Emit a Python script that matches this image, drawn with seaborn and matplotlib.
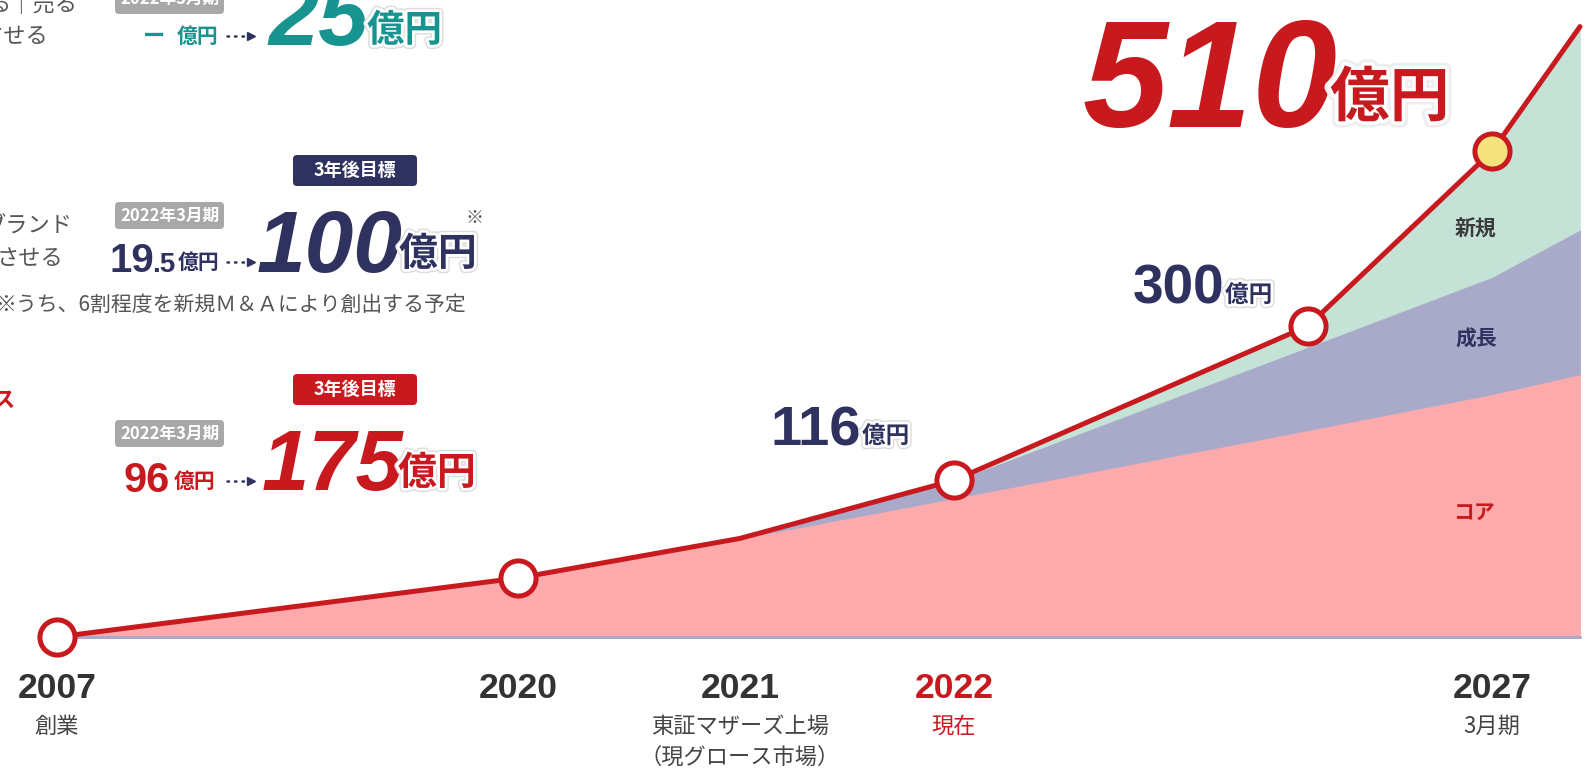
import numpy as np
import matplotlib
matplotlib.use("Agg")
import matplotlib.pyplot as plt
import matplotlib.transforms as mtransforms
import matplotlib.patheffects as pe
from matplotlib.patches import FancyBboxPatch
from matplotlib.lines import Line2D
from matplotlib import font_manager
import seaborn as sns

# ---------------- data (億円) ----------------
years = [2007, 2020, 2021, 2022, 2025, 2027, 2028]
total_sales = [0, 27, 56, 116, 300, 510, 660]
core_sales = [0, 27, 56, 96, 175, 218, 242]
growth_sales = [0, 0, 0, 19.5, 100, 141, 174]
# 新規 fills the gap between (core + growth) and total

open_marker_years = [2007, 2020, 2022, 2025]
goal_year = 2027
value_label_years = [2022, 2025, 2027]

tick_years = [2007, 2020, 2021, 2022, 2027]
tick_labels = ["2007", "2020", "2021", "2022", "2027"]
tick_captions = [["創業"], [], ["東証マザーズ上場", "（現グロース市場）"], ["現在"], ["3月期"]]
current_year = 2022
target_year = 2025

segment_names = ["コア", "成長", "新規"]

# ---------------- style ----------------
RED = "#C8191F"
PINK = "#FCAAAC"
LAV = "#A9AAC9"
MINT = "#C5E2D7"
NAVY = "#2F325F"
TEAL = "#17948F"
YELLOW = "#F4E27C"
DARK = "#333333"
GRAY = "#555555"
BADGE_GRAY = "#A8A8A8"

sns.set_style("white")
JP = "Noto Sans CJK JP"
plt.rcParams["font.family"] = [JP, "DejaVu Sans"]


def has_font(name):
    try:
        font_manager.findfont(font_manager.FontProperties(family=name),
                              fallback_to_default=False)
        return True
    except Exception:
        return False


NARROW = has_font("Liberation Sans Narrow")
NUM_N = "Liberation Sans Narrow" if NARROW else "Liberation Sans"
NUM = "Liberation Sans"
NS = 1.0 if NARROW else 0.88  # shrink when no condensed face exists

W, H, DPI = 1591, 769, 100
fig = plt.figure(figsize=(W / DPI, H / DPI), dpi=DPI)
fig.patch.set_facecolor("white")
# pixel coordinates measured from the top-left corner
PX = mtransforms.Affine2D().scale(1 / DPI, -1 / DPI).translate(0, H / DPI) + fig.dpi_scale_trans

BASE_PX = 637
ax = fig.add_axes([0, (H - BASE_PX) / H, 1, BASE_PX / H])

# compressed timeline: early years squeezed, recent years stretched
tl_years = np.array([2007, 2020, 2021, 2022, 2025, 2027, 2028], float)
tl_units = np.array([0.0, 4.61, 6.83, 8.97, 12.51, 14.35, 15.23])


def piecewise(x, xp, fp):
    x = np.asarray(x, float)
    y = np.interp(x, xp, fp)
    s0 = (fp[1] - fp[0]) / (xp[1] - xp[0])
    s1 = (fp[-1] - fp[-2]) / (xp[-1] - xp[-2])
    y = np.where(x < xp[0], fp[0] + (x - xp[0]) * s0, y)
    y = np.where(x > xp[-1], fp[-1] + (x - xp[-1]) * s1, y)
    return y


# value axis: linear for large sales, lifted at the small end so early years stay visible
def lift(v):
    v = np.asarray(v, float)
    return v + 74.0 * (1.0 - np.exp(-np.clip(v, 0, None) / 30.0)) + np.minimum(v, 0) * 2.47


_grid = np.linspace(-50, 3000, 30001)
_lifted = lift(_grid)


def unlift(t):
    return np.interp(np.asarray(t, float), _lifted, _grid)


ax.set_xscale("function", functions=(lambda x: piecewise(x, tl_years, tl_units),
                                     lambda u: piecewise(u, tl_units, tl_years)))
ax.set_yscale("function", functions=(lift, unlift))

yr = np.array(years, float)
core = np.array(core_sales, float)
core_growth = core + np.array(growth_sales, float)
total = np.array(total_sales, float)

ax.fill_between(yr, 0, core, color=PINK, lw=0.6, ec=PINK, zorder=1)
ax.fill_between(yr, core, core_growth, color=LAV, lw=0.6, ec=LAV, zorder=1)
ax.fill_between(yr, core_growth, total, color=MINT, lw=0.6, ec=MINT, zorder=1)
ax.plot([yr[0], yr[-1]], [0, 0], color=LAV, lw=2.2, zorder=2, clip_on=False)

sns.lineplot(x=years, y=total_sales, ax=ax, color=RED, lw=3.6, sort=False,
             estimator=None, zorder=3, clip_on=False)

idx = [years.index(y) for y in open_marker_years]
sns.scatterplot(x=[years[i] for i in idx], y=[total_sales[i] for i in idx], ax=ax,
                s=640, color="white", edgecolor=RED, linewidth=3.6, zorder=4, clip_on=False)
gi = years.index(goal_year)
sns.scatterplot(x=[years[gi]], y=[total_sales[gi]], ax=ax, s=640, color=YELLOW,
                edgecolor=RED, linewidth=3.6, zorder=4, clip_on=False)

u_left, u_right = -0.57, 15.34
ax.set_xlim(float(piecewise(u_left, tl_units, tl_years)), float(piecewise(u_right, tl_units, tl_years)))
ax.set_ylim(0, 692)
ax.axis("off")

# ---------------- timeline labels ----------------
XD = mtransforms.blended_transform_factory(ax.transData, PX)
for ty, lab, caps in zip(tick_years, tick_labels, tick_captions):
    col = RED if ty == current_year else DARK
    ax.text(ty, 688, lab, transform=XD, ha="center", va="center", fontsize=29 * NS,
            fontweight="bold", family=NUM_N, color=col, clip_on=False)
    for k, c in enumerate(caps):
        ax.text(ty, 726 + 31 * k, c, transform=XD, ha="center", va="center", fontsize=16,
                color=RED if ty == current_year else "#444444", clip_on=False)

# ---------------- value callouts ----------------
outline = [pe.Stroke(linewidth=6, foreground="#dcdcdc"), pe.Stroke(linewidth=4, foreground="white"), pe.Normal()]
v22, v25, v27 = (total_sales[years.index(y)] for y in value_label_years)

fig.text(861, 446, f"{v22:g}", transform=PX, ha="right", va="baseline", fontsize=46 * NS,
         fontweight="bold", family=NUM_N, color=NAVY)
fig.text(862, 436, "億円", transform=PX, ha="left", va="center", fontsize=17, fontweight="bold",
         color=NAVY, path_effects=outline)
fig.text(1224, 304, f"{v25:g}", transform=PX, ha="right", va="baseline", fontsize=45 * NS,
         fontweight="bold", family=NUM_N, color=NAVY)
fig.text(1225, 295, "億円", transform=PX, ha="left", va="center", fontsize=17, fontweight="bold",
         color=NAVY, path_effects=outline)
fig.text(1337, 127, f"{v27:g}", transform=PX, ha="right", va="baseline", fontsize=110,
         fontweight="bold", style="italic", family=NUM, color=RED)
fig.text(1330, 99, "億円", transform=PX, ha="left", va="center", fontsize=43, fontweight="bold",
         color=RED, zorder=5,
         path_effects=[pe.Stroke(linewidth=9, foreground="#eeeeee"),
                       pe.Stroke(linewidth=5, foreground="white"), pe.Normal()])

# segment names on the stacked areas
fig.text(1476, 229, segment_names[2], transform=PX, ha="center", va="center", fontsize=15,
         fontweight="bold", color="#3a3a3a")
fig.text(1476, 339, segment_names[1], transform=PX, ha="center", va="center", fontsize=15,
         fontweight="bold", color=NAVY)
fig.text(1474, 512, segment_names[0], transform=PX, ha="center", va="center", fontsize=15,
         fontweight="bold", color=RED)

# ---------------- left panel: now -> 3-year target ----------------
def badge(x, y, w, h, color, text, size):
    fig.add_artist(FancyBboxPatch((x, y), w, h, boxstyle="round,pad=0,rounding_size=4",
                                  transform=PX, fc=color, ec="none"))
    fig.text(x + w / 2, y + h / 2, text, transform=PX, ha="center", va="center",
             fontsize=size, fontweight="bold", color="white")


def arrow(y):
    fig.add_artist(Line2D([227, 247], [y, y], transform=PX, color=NAVY, lw=1.8,
                          ls=(0, (0.6, 2.4)), dash_capstyle="round"))
    fig.add_artist(Line2D([251], [y], transform=PX, marker=">", ms=6, color=NAVY, lw=0))


ci = years.index(current_year)
ti = years.index(target_year)
core_now, core_goal = core_sales[ci], core_sales[ti]
growth_now, growth_goal = growth_sales[ci], growth_sales[ti]
new_goal = total_sales[ti] - core_goal - growth_goal

BIG = 63 * NS / 0.88

# 新規 row (mostly above the visible area)
fig.text(78, 4, "る｜売る", transform=PX, ha="right", va="center", fontsize=16, color=GRAY)
fig.text(48, 37, "させる", transform=PX, ha="right", va="center", fontsize=16, color=GRAY)
badge(115, -16, 109, 30, BADGE_GRAY, "2022年3月期", 12)
fig.text(154, 36, "ー", transform=PX, ha="center", va="center", fontsize=16, fontweight="bold", color=TEAL)
fig.text(177, 36, "億円", transform=PX, ha="left", va="center", fontsize=15, fontweight="bold", color=TEAL)
arrow(36)
fig.text(268, 45, f"{new_goal:g}", transform=PX, ha="left", va="baseline", fontsize=BIG * 1.03,
         fontweight="bold", style="italic", family=NUM_N, color=TEAL)
fig.text(367, 30, "億円", transform=PX, ha="left", va="center", fontsize=27, fontweight="bold",
         color=TEAL, zorder=5, path_effects=outline)

# 成長 row
fig.text(72, 226, "ブランド", transform=PX, ha="right", va="center", fontsize=16, color=GRAY)
fig.text(63, 259, "させる", transform=PX, ha="right", va="center", fontsize=16, color=GRAY)
badge(293, 155, 124, 31, NAVY, "3年後目標", 13)
badge(115, 202, 109, 27, BADGE_GRAY, "2022年3月期", 12)
g_int, g_frac = f"{growth_now:g}".split(".")
fig.text(175, 272, "." + g_frac, transform=PX, ha="right", va="baseline", fontsize=20,
         fontweight="bold", family=NUM, color=NAVY)
fig.text(154, 272, g_int, transform=PX, ha="right", va="baseline", fontsize=29,
         fontweight="bold", family=NUM, color=NAVY)
fig.text(178, 262, "億円", transform=PX, ha="left", va="center", fontsize=15, fontweight="bold", color=NAVY)
arrow(262)
fig.text(257, 272, f"{growth_goal:g}", transform=PX, ha="left", va="baseline", fontsize=BIG,
         fontweight="bold", style="italic", family=NUM_N, color=NAVY)
fig.text(399, 254, "億円", transform=PX, ha="left", va="center", fontsize=28, fontweight="bold",
         color=NAVY, zorder=5, path_effects=outline)
fig.text(474, 218, "※", transform=PX, ha="center", va="center", fontsize=13, color=GRAY)
fig.text(466, 305, "※うち、6割程度を新規Ｍ＆Ａにより創出する予定", transform=PX, ha="right",
         va="center", fontsize=15, color=GRAY)

# コア row
fig.text(15, 400, "ス", transform=PX, ha="right", va="center", fontsize=16, fontweight="bold", color=RED)
badge(293, 374, 124, 31, RED, "3年後目標", 13)
badge(115, 420, 109, 27, BADGE_GRAY, "2022年3月期", 12)
fig.text(170, 492, f"{core_now:g}", transform=PX, ha="right", va="baseline", fontsize=30,
         fontweight="bold", family=NUM, color=RED)
fig.text(174, 481, "億円", transform=PX, ha="left", va="center", fontsize=15, fontweight="bold", color=RED)
arrow(481)
fig.text(262, 490, f"{core_goal:g}", transform=PX, ha="left", va="baseline", fontsize=BIG * 0.97,
         fontweight="bold", style="italic", family=NUM_N, color=RED)
fig.text(398, 473, "億円", transform=PX, ha="left", va="center", fontsize=28, fontweight="bold",
         color=RED, zorder=5, path_effects=outline)

fig.savefig("out.png", dpi=DPI)
